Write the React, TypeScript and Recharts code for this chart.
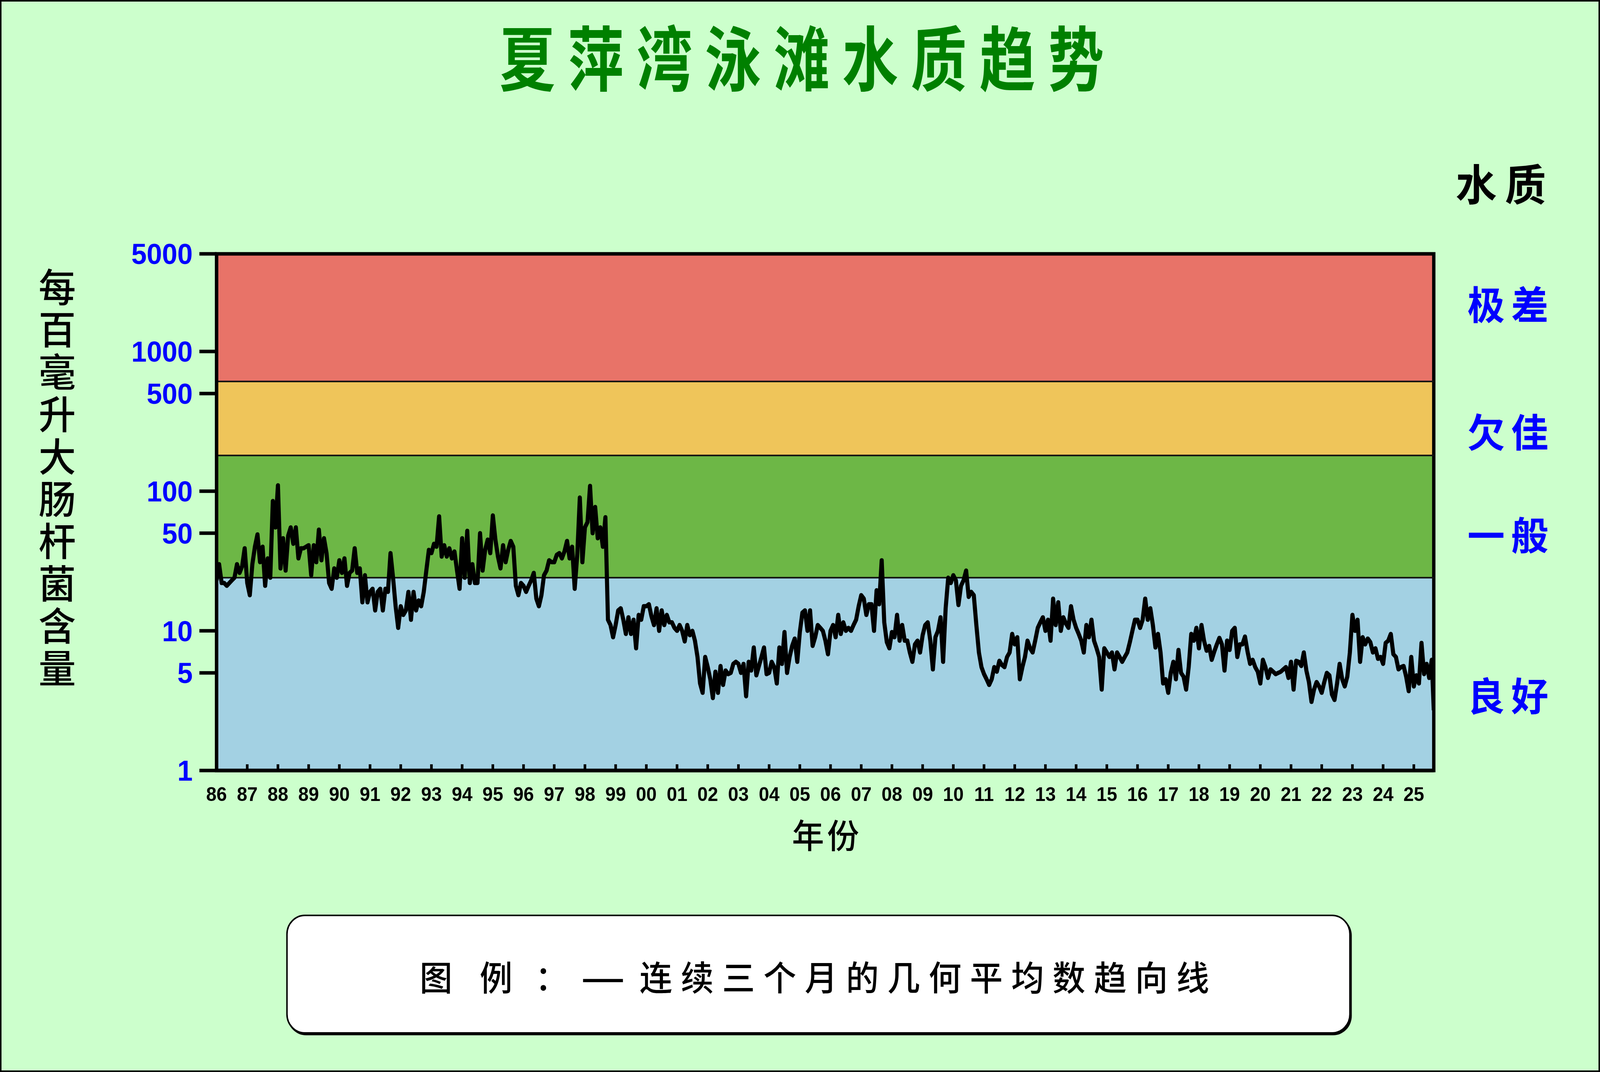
import React from "react";
import {
  ComposedChart,
  Line,
  XAxis,
  YAxis,
  ReferenceArea,
  ReferenceLine,
} from "recharts";

// Three-month geometric mean of E. coli counts (one value per month)
const monthly1986to1990 = [
  23, 30, 22, 22, 21, 22, 23, 24, 30, 26, 29, 39,
  22, 18, 30, 40, 49, 31, 40, 21, 33, 24, 85, 55,
  110, 28, 46, 27, 48, 55, 42, 55, 33, 39, 39, 40,
  41, 25, 41, 31, 53, 32, 46, 36, 22, 20, 28, 24,
  32, 26, 33, 21, 26, 27, 39, 26, 28, 16, 25, 16,
];
const monthly1991to1995 = [
  19, 20, 14, 19, 20, 14, 20, 19, 36, 24, 15, 10.5,
  15, 13, 14, 19, 12, 19, 14, 16.5, 15, 19, 27, 38,
  36, 42, 40, 66, 34, 41, 34, 39, 33, 37, 27, 20,
  46, 24, 52, 22, 30, 22, 22, 50, 27, 38, 45, 36,
  67, 45, 34, 28, 41, 31, 38, 44, 40, 21, 18, 22,
];
const monthly1996to2000 = [
  21, 19, 21, 23, 26, 17, 15, 18, 25, 27, 32, 31,
  31, 35, 36, 33, 37, 44, 33, 40, 20, 35, 90, 31,
  55, 60, 109, 50, 77, 46, 55, 40, 65, 12, 11, 9,
  11, 14, 14.5, 12, 9.5, 12.5, 9.5, 12, 7.5, 13, 12, 15,
  15, 15.5, 12.7, 11, 14.5, 10, 14, 11, 13, 11.5, 11.5, 10.5,
];
const monthly2001to2005 = [
  10, 11, 10, 8.4, 11, 9.3, 10, 8.5, 6.5, 4.2, 3.6, 6.5,
  5.5, 4.5, 3.3, 5.1, 3.6, 5.6, 4.1, 5.2, 4.9, 5, 5.8, 6,
  5.8, 5, 5.8, 3.4, 6, 5.2, 7.6, 4.8, 5.6, 6.5, 7.6, 4.9,
  5, 6, 5.5, 4.2, 7.6, 5.8, 9.8, 5, 6.5, 7.8, 8.8, 6,
  9.8, 13.5, 14, 10, 14, 7.8, 9, 11, 10.5, 10, 8.5, 6.8,
];
const monthly2006to2010 = [
  10, 11, 9, 13, 9.5, 11.5, 10, 10.5, 10, 11, 12, 15,
  18, 17, 13, 15.5, 15.5, 10, 19.5, 15.5, 32, 11.5, 8.3, 7.5,
  9.8, 9, 13, 8.5, 11, 8.5, 8.5, 7, 6, 8, 8.5, 7,
  9.3, 11, 11.5, 8.5, 5.3, 9, 10, 12.5, 6, 14.5, 24, 22,
  25, 23, 15.3, 21, 23, 27, 17.5, 19, 18, 11, 7, 5.5,
];
const monthly2011to2015 = [
  4.9, 4.5, 4.1, 4.5, 5.5, 5.1, 6.1, 5.7, 5.5, 6.5, 7, 9.5,
  8, 9, 4.5, 5.5, 6.5, 8.5, 7.5, 7, 8.5, 10.5, 11.5, 12.5,
  10, 12, 8.5, 17, 11, 16, 10, 12.5, 11.3, 10.5, 15, 12,
  10.5, 9.5, 8.5, 7, 11, 9, 12, 8.5, 7.5, 6.5, 3.8, 7.5,
  7, 6.5, 7, 5.3, 7, 6.5, 6, 6.5, 7, 8.3, 10, 12,
];
const monthly2016to2020 = [
  12, 10.5, 12, 17, 12, 14.5, 11, 7.6, 9.5, 7, 4.2, 4.5,
  3.6, 5, 6, 4.5, 7.3, 5, 4.7, 3.8, 5.5, 9.5, 8.5, 10.5,
  7.5, 11, 8.5, 7.2, 7.8, 6.2, 7.1, 8, 8.9, 8, 5.2, 8.5,
  7.3, 10, 10.5, 6.5, 8, 8, 9.1, 7.1, 5.8, 6.2, 5.5, 5.1,
  4.2, 6.2, 5.5, 4.6, 5.3, 5.1, 4.9, 5, 5.1, 5.3, 5.5, 4.6,
];
const monthly2021to2025 = [
  6, 3.8, 6.1, 6, 5.6, 7, 5.2, 4.3, 3.1, 3.8, 4.3, 4,
  3.6, 4.3, 5, 4.8, 3.5, 3.2, 4.2, 5.8, 4.5, 4, 4.7, 7,
  13, 10, 12, 6, 9, 8, 8.8, 8.3, 7, 7.5, 6.3, 6.5,
  5.8, 8.2, 8.5, 9.5, 6.8, 6.5, 5.3, 5.5, 5.6, 4.7, 3.7, 6.5,
  4, 4.8, 4.2, 8.2, 4.9, 5.8, 4.6, 6.2,
];
const lastReading = { t: 2025.65, v: 2.7 };

const blockStarts = [1986, 1991, 1996, 2001, 2006, 2011, 2016, 2021];
const blocks = [
  monthly1986to1990,
  monthly1991to1995,
  monthly1996to2000,
  monthly2001to2005,
  monthly2006to2010,
  monthly2011to2015,
  monthly2016to2020,
  monthly2021to2025,
];

const yearTicks = [
  1986, 1987, 1988, 1989, 1990, 1991, 1992, 1993, 1994, 1995,
  1996, 1997, 1998, 1999, 2000, 2001, 2002, 2003, 2004, 2005,
  2006, 2007, 2008, 2009, 2010, 2011, 2012, 2013, 2014, 2015,
  2016, 2017, 2018, 2019, 2020, 2021, 2022, 2023, 2024, 2025,
];
const countTicks = [1, 5, 10, 50, 100, 500, 1000, 5000];
const xDomain = [1986, 2025.65];
const yDomain = [1, 5000];

// quality grade limits (counts per 100 mL): good / fair / poor / very poor
const gradeLimits = [1, 24, 180, 610, 5000];
const gradeNames = ["良好", "一般", "欠佳", "极差"];

const trendData = [
  ...blocks.flatMap((vals, b) =>
    vals.map((v, i) => ({ t: blockStarts[b] + i / 12, v }))
  ),
  lastReading,
];

const W = 4293;
const H = 2745;
const BAND_COLORS = ["#A3D1E3", "#6DB746", "#EFC55A", "#E87368"];
const LABEL_Y = [1777, 1366, 1102, 775];

const CJK = "'Noto Sans CJK SC', 'Noto Sans CJK TC', sans-serif";
const LATIN = "'Liberation Sans', Arial, sans-serif";

function YearTick(props: any) {
  const { x, y, payload } = props;
  const label = String(Number(payload.value) % 100).padStart(2, "0");
  return (
    <g>
      <line x1={x} x2={x} y1={y - 3} y2={y - 16} stroke="#000" strokeWidth={7} />
      <text
        x={x}
        y={y + 78}
        textAnchor="middle"
        fontFamily={LATIN}
        fontWeight={700}
        fontSize={50}
        fill="#000"
      >
        {label}
      </text>
    </g>
  );
}

const centered = (x: number, y: number): React.CSSProperties => ({
  position: "absolute",
  left: x,
  top: y,
  transform: "translate(-50%, -50%)",
  whiteSpace: "nowrap",
  lineHeight: 1,
});

export default function App() {
  // fit the 4293x2745 drawing to whatever viewport the page actually gets
  const sx = (window.innerWidth || W) / W;
  const sy = (window.innerHeight || H) / H;

  return (
    <div
      style={{
        position: "fixed",
        left: 0,
        top: 0,
        width: W,
        height: H,
        transform: `scale(${sx}, ${sy})`,
        transformOrigin: "0 0",
        background: "#CCFFCC",
        overflow: "hidden",
        fontFamily: CJK,
      }}
    >
      <div style={{ position: "absolute", left: 0, top: 0 }}>
        <ComposedChart
          width={W}
          height={H}
          data={trendData}
          margin={{ top: 650, right: 446, bottom: 652, left: 0 }}
        >
          {gradeNames.map((name, i) => (
            <ReferenceArea
              key={name}
              y1={gradeLimits[i]}
              y2={gradeLimits[i + 1]}
              fill={BAND_COLORS[i]}
              fillOpacity={1}
              stroke="none"
            />
          ))}
          {gradeLimits.slice(1, 4).map((lim) => (
            <ReferenceLine key={lim} y={lim} stroke="#111" strokeWidth={4} />
          ))}
          <XAxis
            dataKey="t"
            type="number"
            domain={xDomain}
            ticks={yearTicks}
            interval={0}
            allowDataOverflow
            height={120}
            tickSize={0}
            tickMargin={0}
            tickLine={false}
            axisLine={{ stroke: "#000", strokeWidth: 9 }}
            tick={<YearTick />}
          />
          <YAxis
            dataKey="v"
            scale="log"
            domain={yDomain}
            ticks={countTicks}
            interval={0}
            allowDataOverflow
            width={581}
            tickSize={46}
            tickMargin={18}
            tickLine={{ stroke: "#000", strokeWidth: 9 }}
            axisLine={{ stroke: "#000", strokeWidth: 9 }}
            tick={{
              fill: "#0000FF",
              fontSize: 74,
              fontWeight: 700,
              fontFamily: LATIN,
            }}
          />
          <Line
            type="linear"
            dataKey="v"
            stroke="#000"
            strokeWidth={11}
            strokeLinejoin="round"
            dot={false}
            activeDot={false}
            isAnimationActive={false}
          />
          <ReferenceArea
            x1={xDomain[0]}
            x2={xDomain[1]}
            y1={yDomain[0]}
            y2={yDomain[1]}
            fill="none"
            stroke="#000"
            strokeWidth={9}
          />
        </ComposedChart>
      </div>

      {/* title */}
      <div
        style={{
          ...centered(2151, 140),
          transform: "translate(-50%, -50%) scaleY(1.2)",
          fontSize: 150,
          fontWeight: 700,
          color: "#008000",
          letterSpacing: 34,
          paddingLeft: 34,
        }}
      >
        夏萍湾泳滩水质趋势
      </div>

      {/* y axis title, set vertically */}
      <div
        style={{
          position: "absolute",
          left: 103,
          top: 685,
          writingMode: "vertical-rl",
          textOrientation: "upright",
          fontSize: 100,
          lineHeight: "100px",
          width: 100,
          fontWeight: 500,
          letterSpacing: 8.4,
          color: "#000",
          whiteSpace: "nowrap",
        }}
      >
        每百毫升大肠杆菌含量
      </div>

      {/* x axis title */}
      <div
        style={{
          ...centered(2215, 2135),
          fontSize: 86,
          fontWeight: 500,
          letterSpacing: 8,
          paddingLeft: 8,
          color: "#000",
        }}
      >
        年份
      </div>

      {/* right side quality scale */}
      <div
        style={{
          ...centered(4027, 466),
          fontSize: 110,
          fontWeight: 700,
          letterSpacing: 22,
          paddingLeft: 22,
          color: "#000",
        }}
      >
        水质
      </div>
      {gradeNames.map((name, i) => (
        <div
          key={name}
          style={{
            ...centered(4046, LABEL_Y[i]),
            fontSize: 100,
            fontWeight: 700,
            letterSpacing: 17,
            paddingLeft: 17,
            color: "#0000FF",
          }}
        >
          {name}
        </div>
      ))}

      {/* legend */}
      <div
        style={{
          position: "absolute",
          left: 768,
          top: 2342,
          width: 2856,
          height: 305,
          boxSizing: "border-box",
          background: "#FFFFFF",
          border: "4px solid #000",
          borderRadius: 50,
          boxShadow: "3px 4px 0 #000",
        }}
      />
      <div style={{ ...centered(1170, 2498), fontSize: 88, fontWeight: 500 }}>图</div>
      <div style={{ ...centered(1331, 2498), fontSize: 88, fontWeight: 500 }}>例</div>
      <div style={{ ...centered(1480, 2498), fontSize: 88, fontWeight: 500 }}>：</div>
      <div
        style={{
          ...centered(1618, 2498),
          transform: "translate(-50%, -50%) scaleX(1.5)",
          fontSize: 88,
          fontWeight: 700,
        }}
      >
        —
      </div>
      <div
        style={{
          position: "absolute",
          left: 1716,
          top: 2498,
          transform: "translateY(-50%)",
          whiteSpace: "nowrap",
          lineHeight: 1,
          fontSize: 88,
          fontWeight: 500,
          letterSpacing: 22.8,
        }}
      >
        连续三个月的几何平均数趋向线
      </div>

      {/* outer frame */}
      <div
        style={{
          position: "absolute",
          inset: 0,
          border: "4px solid #000",
          pointerEvents: "none",
        }}
      />
    </div>
  );
}
